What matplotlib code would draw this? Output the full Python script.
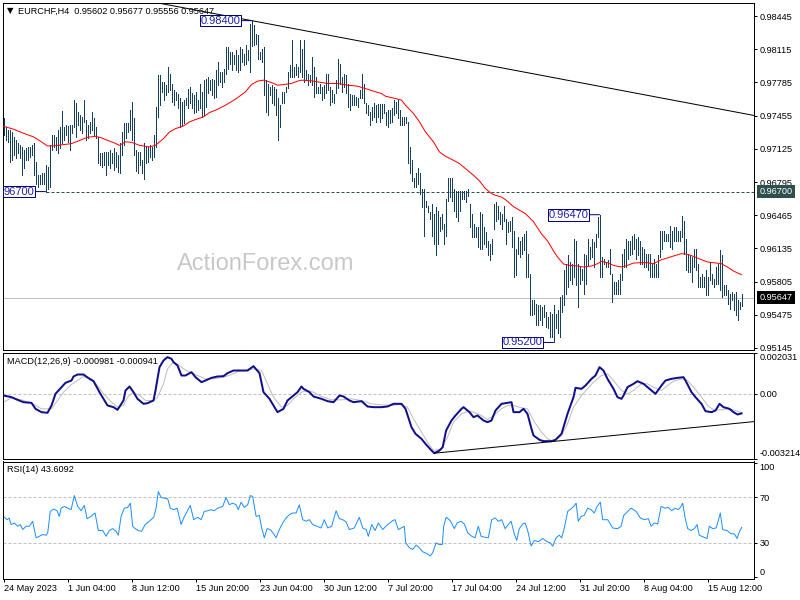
import matplotlib
matplotlib.use("Agg")
import matplotlib.pyplot as plt
import numpy as np

W, H = 800, 600

# EURCHF H4 bars from 24 May 2023 20:00, high / low in pips (1e-4)
HIGH = [
    9743, 9734, 9731, 9731, 9729, 9724, 9721, 9718, 9716, 9714,
    9711, 9713, 9714, 9714, 9716, 9718, 9699, 9686, 9686, 9688,
    9688, 9696, 9694, 9716, 9726, 9726, 9724, 9731, 9734, 9750,
    9734, 9736, 9735, 9736, 9736, 9761, 9758, 9749, 9746, 9744,
    9761, 9741, 9736, 9739, 9749, 9743, 9734, 9724, 9708, 9708,
    9709, 9709, 9709, 9711, 9708, 9713, 9709, 9706, 9718, 9729,
    9738, 9738, 9738, 9751, 9759, 9743, 9711, 9709, 9709, 9701,
    9718, 9714, 9714, 9716, 9714, 9726, 9754, 9786, 9786, 9779,
    9779, 9776, 9794, 9787, 9777, 9771, 9769, 9767, 9763, 9759,
    9761, 9763, 9772, 9774, 9768, 9766, 9769, 9761, 9777, 9769,
    9781, 9782, 9784, 9781, 9782, 9781, 9791, 9799, 9789, 9789,
    9792, 9814, 9814, 9809, 9809, 9806, 9811, 9806, 9814, 9812,
    9807, 9816, 9811, 9837, 9840, 9836, 9827, 9826, 9809, 9812,
    9814, 9781, 9777, 9774, 9776, 9774, 9772, 9763, 9756, 9769,
    9769, 9774, 9789, 9796, 9821, 9794, 9797, 9794, 9821, 9812,
    9821, 9791, 9787, 9786, 9804, 9794, 9784, 9774, 9777, 9774,
    9776, 9787, 9787, 9774, 9771, 9767, 9781, 9802, 9797, 9784,
    9787, 9786, 9777, 9767, 9766, 9766, 9764, 9763, 9771, 9787,
    9777, 9758, 9756, 9749, 9754, 9758, 9756, 9757, 9757, 9757,
    9757, 9749, 9751, 9751, 9753, 9761, 9759, 9761, 9751, 9744,
    9744, 9744, 9739, 9714, 9701, 9684, 9688, 9693, 9688, 9673,
    9673, 9661, 9656, 9650, 9658, 9648, 9655, 9651, 9645, 9648,
    9638, 9663, 9684, 9684, 9684, 9673, 9671, 9671, 9671, 9671,
    9671, 9671, 9673, 9658, 9648, 9638, 9635, 9635, 9650, 9648,
    9635, 9630, 9621, 9618, 9623, 9658, 9660, 9656, 9650, 9648,
    9656, 9643, 9640, 9641, 9645, 9631, 9613, 9625, 9621, 9625,
    9628, 9631, 9608, 9588, 9562, 9562, 9558, 9557, 9557, 9555,
    9557, 9550, 9545, 9550, 9548, 9557, 9548, 9552, 9565, 9567,
    9592, 9598, 9607, 9600, 9598, 9623, 9621, 9598, 9595, 9593,
    9608, 9607, 9623, 9615, 9623, 9620, 9628, 9645, 9647, 9605,
    9603, 9600, 9602, 9613, 9588, 9580, 9580, 9582, 9588, 9608,
    9613, 9623, 9621, 9621, 9626, 9628, 9623, 9625, 9621, 9615,
    9613, 9608, 9608, 9608, 9598, 9603, 9598, 9607, 9631, 9631,
    9631, 9628, 9628, 9636, 9631, 9635, 9635, 9631, 9631, 9646,
    9641, 9623, 9608, 9607, 9605, 9613, 9613, 9598, 9585, 9588,
    9585, 9592, 9585, 9600, 9588, 9583, 9595, 9598, 9612, 9607,
    9577, 9577, 9572, 9568, 9570, 9568, 9570, 9562, 9560, 9568,
]
LOW = [
    9726, 9721, 9719, 9699, 9701, 9706, 9703, 9708, 9703, 9686,
    9693, 9701, 9701, 9704, 9706, 9686, 9678, 9675, 9678, 9678,
    9678, 9670, 9673, 9675, 9711, 9714, 9711, 9708, 9713, 9718,
    9721, 9726, 9719, 9711, 9728, 9734, 9724, 9736, 9731, 9728,
    9739, 9721, 9723, 9728, 9731, 9726, 9723, 9698, 9696, 9694,
    9696, 9686, 9696, 9693, 9698, 9691, 9694, 9689, 9688, 9706,
    9716, 9723, 9729, 9731, 9721, 9706, 9690, 9688, 9696, 9688,
    9683, 9698, 9699, 9704, 9701, 9704, 9714, 9744, 9756, 9769,
    9761, 9766, 9769, 9771, 9759, 9756, 9761, 9753, 9734, 9736,
    9738, 9756, 9753, 9758, 9753, 9748, 9749, 9751, 9753, 9744,
    9746, 9754, 9768, 9771, 9766, 9763, 9764, 9776, 9779, 9774,
    9779, 9787, 9792, 9797, 9791, 9797, 9791, 9789, 9791, 9799,
    9796, 9797, 9801, 9789, 9815, 9816, 9817, 9802, 9802, 9799,
    9766, 9749, 9746, 9766, 9758, 9756, 9746, 9721, 9734, 9758,
    9758, 9769, 9773, 9784, 9784, 9784, 9786, 9784, 9789, 9784,
    9779, 9781, 9776, 9779, 9776, 9764, 9768, 9768, 9768, 9761,
    9763, 9768, 9771, 9756, 9759, 9758, 9768, 9773, 9777, 9769,
    9774, 9768, 9754, 9751, 9756, 9756, 9756, 9754, 9763, 9763,
    9758, 9748, 9746, 9736, 9741, 9744, 9739, 9744, 9739, 9743,
    9748, 9736, 9734, 9738, 9739, 9746, 9748, 9743, 9736, 9736,
    9736, 9738, 9698, 9688, 9681, 9675, 9675, 9678, 9668, 9655,
    9626, 9655, 9650, 9643, 9626, 9618, 9607, 9618, 9631, 9633,
    9618, 9626, 9661, 9665, 9661, 9651, 9645, 9641, 9651, 9663,
    9663, 9660, 9666, 9635, 9625, 9625, 9625, 9615, 9613, 9613,
    9618, 9615, 9607, 9602, 9608, 9633, 9641, 9643, 9638, 9633,
    9641, 9618, 9630, 9631, 9615, 9585, 9587, 9608, 9605, 9608,
    9612, 9585, 9585, 9547, 9547, 9548, 9537, 9537, 9542, 9537,
    9545, 9535, 9534, 9525, 9525, 9520, 9534, 9529, 9525, 9550,
    9557, 9568, 9575, 9582, 9578, 9585, 9577, 9555, 9578, 9582,
    9568, 9578, 9597, 9603, 9605, 9595, 9615, 9625, 9585, 9585,
    9598, 9595, 9595, 9588, 9560, 9568, 9568, 9568, 9568, 9582,
    9595, 9595, 9603, 9607, 9608, 9613, 9603, 9607, 9598, 9598,
    9595, 9595, 9592, 9585, 9585, 9585, 9585, 9585, 9605, 9613,
    9621, 9621, 9621, 9615, 9613, 9621, 9621, 9621, 9621, 9625,
    9608, 9592, 9590, 9590, 9580, 9595, 9592, 9575, 9575, 9575,
    9575, 9567, 9567, 9582, 9578, 9575, 9578, 9578, 9572, 9565,
    9567, 9567, 9558, 9553, 9562, 9552, 9547, 9542, 9553, 9556,
]

# moving average, read every few bars (pips)
MA_BAR = [0, 5, 10, 15, 19, 22, 25, 30, 34, 37, 42, 46, 49, 52, 55, 58, 61,
          64, 68, 73, 76, 80, 83, 86, 90, 93, 96, 100, 103, 106, 111, 116, 121,
          124, 127, 130, 134, 137, 140, 144, 147, 149, 154, 157, 162, 167, 172,
          177, 182, 185, 189, 191, 196, 199, 201, 205, 208, 211, 215, 218, 221,
          225, 228, 231, 235, 238, 241, 244, 246, 249, 251, 255, 261, 265, 269,
          272, 275, 277, 280, 283, 287, 290, 294, 297, 299, 302, 305, 309, 312,
          315, 319, 322, 325, 329, 332, 335, 339, 342, 345, 349, 352, 355, 359,
          362, 365, 369]
MA_PIPS = [9735, 9732, 9728, 9724.4, 9719.4, 9715.4, 9715.4, 9716.7, 9717.7,
           9720, 9724, 9725, 9723.4, 9721, 9718.7, 9716, 9719.5, 9719, 9716,
           9714.4, 9716, 9722.7, 9729.3, 9732.6, 9735.3, 9739.3, 9741.6, 9744.3,
           9748.6, 9750.9, 9755.9, 9761.9, 9769.2, 9776.5, 9779.8, 9780.8,
           9778.4, 9775.8, 9776.4, 9777.5, 9779.8, 9780.8, 9780.1, 9779.1,
           9777.5, 9777.5, 9775.8, 9774.8, 9771.8, 9769.8, 9767.5, 9764.8,
           9762.5, 9760.9, 9755.9, 9747.6, 9739.3, 9729.3, 9719.4, 9709.4,
           9705.1, 9701.1, 9697.8, 9692.8, 9686.2, 9680.6, 9672.9, 9668, 9666.3,
           9664.6, 9662, 9655, 9648, 9640, 9628, 9621, 9611, 9605, 9598, 9596.6,
           9596, 9595, 9596, 9598.3, 9600.6, 9599.3, 9596.6, 9595, 9596.6, 9599,
           9599.3, 9599.3, 9598.3, 9602.3, 9604, 9606, 9608.3, 9607.6, 9605.6,
           9602.3, 9600, 9599.3, 9598.3, 9595, 9591, 9587.3]

# MACD(12,26,9) in units of 1e-4
MACD_BAR = [0, 4, 7, 10, 14, 16, 19, 22, 24, 26, 29, 31, 34, 35, 37, 40, 43, 45,
            48, 50, 52, 55, 57, 60, 61, 63, 65, 67, 70, 72, 75, 76, 78, 80, 82,
            84, 85, 87, 89, 91, 94, 96, 99, 101, 104, 107, 110, 112, 115, 119,
            122, 125, 128, 130, 133, 135, 137, 140, 142, 145, 147, 149, 150, 153,
            155, 159, 162, 165, 168, 170, 173, 175, 179, 182, 185, 189, 192, 195,
            199, 201, 204, 206, 209, 211, 214, 215.4, 218, 219.6, 221.3, 224,
            226, 229, 230, 233, 235, 237, 240, 242, 244, 246, 249, 251, 254, 255,
            258, 260, 262, 264, 265, 268, 270, 274, 276, 279, 280, 282, 285, 286,
            289, 291, 294, 296, 298, 300, 302, 305, 307, 309, 310, 312, 315, 317,
            320, 322, 325, 326, 329, 331, 334, 337, 340, 341, 344, 346, 349, 351,
            354, 356, 358, 360, 363, 365, 367, 369]
MACD_MAIN = [-0.97, -1.79, -3.11, -4.27, -4.6, -7.56, -9.21, -9.54, -5.9, -0.14,
             3.16, 5.3, 6.46, 8.43, 9.42, 9.42, 7.28, 6.13, 0.68, -2.62, -5.9,
             -6.74, -8.06, -3.44, 1.51, 3.49, 0.68, -2.62, -5.09, -4.76, -3.44,
             1.51, 13.05, 16.35, 18.0, 17.18, 15.53, 13.88, 8.93, 8.93, 10.58,
             8.1, 5.63, 6.46, 7.77, 8.43, 8.6, 10.08, 11.4, 11.4, 11.4, 13.55,
             10.08, 0.68, -2.62, -5.9, -9.21, -7.56, -3.44, -0.97, 0.68, 3.49,
             2.33, 0.68, -1.46, -2.62, -3.77, -4.27, -0.97, -1.46, -3.44, -4.27,
             -3.77, -6.41, -6.74, -6.74, -6.41, -5.09, -5.09, -7.56, -16.64,
             -19.94, -22.41, -24.88, -28.18, -29.5, -28.18, -26.53, -18.29,
             -13.34, -10.86, -7.56, -6.74, -9.21, -11.69, -10.86, -13.34, -14.16,
             -13.34, -8.39, -5.09, -4.76, -4.27, -9.21, -9.21, -7.56, -10.04,
             -17.46, -20.76, -22.9, -23.56, -23.56, -22.9, -19.94, -16.64, -10.04,
             -1.79, 2.83, 2.33, 3.98, 7.28, 8.93, 13.05, 11.4, 7.28, 2.33, -1.79,
             -2.62, -0.97, 3.16, 4.81, 6.13, 4.81, 3.16, 0.68, -0.14, 3.98, 6.46,
             7.28, 7.77, 8.1, 6.46, 0.68, -1.79, -5.09, -8.72, -9.21, -8.39,
             -5.09, -6.74, -7.56, -9.21, -10.37, -9.81]
SIGNAL_BAR = [0, 4, 9, 14, 19, 24, 27, 30, 34, 37, 40, 44, 47, 50, 54, 57, 60,
              62, 65, 68, 71, 75, 77, 80, 82, 85, 87, 90, 94, 97, 101, 105, 110,
              114, 118, 122, 125, 129, 132, 135, 139, 142, 145, 149, 152, 155,
              159, 164, 169, 174, 179, 184, 189, 194, 198, 202, 205, 209, 212,
              215, 219, 222, 225, 229, 232, 235, 239, 242, 245, 249, 252, 255,
              259, 262, 265, 269, 272, 275, 279, 282, 285, 289, 292, 295, 299,
              302, 305, 309, 312, 315, 319, 322, 325, 329, 332, 335, 339, 342,
              345, 349, 352, 355, 359, 362, 365, 369]
MACD_SIGNAL = [-4.27, -2.12, -3.11, -4.76, -7.56, -7.56, -3.44, 0.68, 4.48, 6.46,
               8.43, 7.28, 3.98, -0.14, -4.27, -6.74, -5.9, -1.79, 0.68, -0.97,
               -3.44, -3.44, -1.79, 4.81, 12.23, 15.53, 14.7, 12.23, 10.08, 8.93,
               7.28, 7.28, 8.1, 9.42, 11.07, 11.4, 12.23, 11.4, 4.81, -1.79, -6.74,
               -5.9, -2.62, 0.68, 1.51, 0.68, -1.46, -3.11, -3.11, -2.62, -3.44,
               -5.09, -5.59, -5.9, -5.42, -6.74, -12.51, -19.11, -24.06, -28.18,
               -27.36, -21.58, -14.16, -10.04, -8.88, -9.21, -10.86, -13.01,
               -10.86, -7.56, -5.9, -5.9, -7.07, -7.56, -13.34, -19.11, -22.41,
               -23.56, -20.76, -14.99, -6.74, -0.97, 2.33, 5.63, 8.93, 9.75, 6.46,
               1.51, -0.14, 1.51, 4.81, 4.81, 3.16, 1.51, 3.98, 6.13, 7.28, 6.46,
               3.16, -1.79, -5.9, -8.06, -8.06, -7.56, -8.06, -9.41]

# RSI(14)
RSI_BAR = [0.4, 1.8, 2.8, 3.8, 5.4, 7.1, 8.4, 9.6, 11.3, 12.9, 14.6, 15.4, 16.3,
           17.9, 19.6, 21.3, 22.1, 23.4, 25.1, 26.8, 27.9, 28.8, 30.4, 32.1, 33.8,
           35.4, 37.1, 38.8, 40.4, 41.8, 43.8, 45.8, 47.4, 49.6, 51.3, 52.9, 54.6,
           56.3, 57.4, 58.8, 60.4, 62.1, 63.4, 64.6, 65.8, 67.4, 69.1, 70.8, 72.9,
           75.1, 76.3, 77.4, 78.8, 80.4, 82.1, 83.4, 85.1, 86.8, 88.8, 90.1, 91.8,
           93.4, 95.1, 97.1, 98.8, 100.4, 102.1, 103.8, 105.4, 107.1, 109.6,
           111.3, 112.9, 114.6, 116.3, 117.4, 118.8, 120.4, 122.1, 123.4, 124.6,
           126.3, 127.9, 129.1, 130.4, 131.8, 133.4, 135.1, 136.3, 137.9, 139.6,
           141.3, 142.9, 144.6, 146.3, 147.9, 149.6, 151.3, 152.9, 154.6, 156.8,
           158.8, 160.4, 162.1, 164.1, 166.3, 167.9, 169.6, 171.3, 172.9, 175.4,
           177.9, 179.6, 181.3, 182.4, 184.1, 185.8, 187.4, 189.6, 192.1, 194.6,
           195.8, 197.4, 200.4, 201.1, 202.9, 204.6, 206.3, 207.9, 209.6, 211.8,
           213.4, 214.6, 216.3, 217.8, 219.4, 220.1, 221.3, 223.4, 225.4, 226.8,
           228.8, 230.4, 232.1, 234.1, 235.8, 237.4, 238.8, 240.4, 242.4, 244.1,
           245.8, 247.4, 249.1, 250.8, 252.4, 253.8, 255.4, 256.6, 257.9, 259.6,
           260.8, 262.1, 263.8, 265.4, 267.4, 269.6, 271.8, 273.4, 274.6, 276.3,
           277.9, 279.1, 280.4, 282.1, 283.8, 285.1, 286.3, 287.4, 288.8, 290.4,
           292.1, 293.8, 295.4, 296.8, 298.4, 299.6, 302.1, 304.6, 307.1, 308.8,
           310.1, 312.1, 313.8, 316.3, 318.4, 320.4, 322.4, 323.8, 325.4, 327.1,
           328.8, 330.8, 332.4, 334.1, 335.8, 337.4, 338.8, 339.6, 340.8, 342.1,
           343.8, 345.4, 346.8, 347.9, 350.1, 351.8, 352.9, 354.6, 356.3, 357.4,
           358.4, 359.6, 361.8, 363.8, 365.4, 366.8, 367.9, 369.1]
RSI = [52.5, 50.4, 51.9, 46.1, 47.5, 44.6, 46.1, 41.7, 44.6, 44.6, 49, 41.7, 34.4,
       35.8, 37.3, 36.7, 38.8, 57.7, 59.8, 58.3, 53.3, 60.6, 62.1, 60.6, 59.2,
       71.7, 62.1, 58.3, 63, 51.3, 53.3, 56.3, 40.8, 40.8, 35.8, 40.8, 42.5, 40.2,
       36.7, 53.3, 60.6, 61.2, 65, 44.6, 42.5, 40.8, 40.2, 46.1, 49, 52.5, 60.6,
       75.2, 70, 69.4, 68.8, 60.6, 59.2, 60.6, 46.1, 51.9, 57.7, 63, 50.4, 52.5,
       50.4, 57.7, 58.3, 59.2, 58.3, 60.6, 62.1, 70, 63.6, 65, 63.6, 59.2, 65.9,
       61.2, 63.6, 71.7, 70.8, 53.3, 54.2, 43.1, 34.4, 42.5, 41.7, 37.9, 34.4,
       41.7, 47.5, 51.9, 54.8, 56.3, 56.3, 63.6, 50.4, 49, 50.4, 46.1, 44.6, 43.1,
       50.4, 43.1, 44.6, 58.3, 51.3, 50.4, 48.4, 41.7, 43.1, 52.5, 43.1, 41.7,
       35.8, 46.1, 40.8, 47.5, 41.7, 46.1, 49.6, 50.4, 41.7, 44.6, 30, 25.6, 24.2,
       28, 25.6, 22.1, 20.4, 18.3, 21.3, 30, 28.5, 28.5, 44.6, 52.5, 49.6, 42.5,
       47.5, 49, 46.6, 38.8, 35.8, 34.4, 44.6, 35.8, 35, 34.4, 50.4, 51.9, 49,
       50.4, 42.5, 46.1, 49, 37.9, 32.1, 42.5, 46.6, 47.5, 40.8, 27.1, 32.1, 30.9,
       33.8, 30.9, 30, 27.1, 34.4, 36.7, 34.4, 43.1, 57.7, 60.1, 62.1, 65, 49,
       53.3, 54.2, 60.6, 59.2, 56.3, 62.1, 65.9, 50.4, 50.4, 43.1, 42.5, 44.6,
       54.2, 57.7, 60.6, 57.7, 51.9, 50.4, 51.3, 44.6, 47.5, 46.6, 62.1, 60.6,
       61.2, 58.3, 60.6, 59.2, 62.1, 65, 51.9, 42.5, 40.8, 42.5, 46.1, 36.7, 35,
       33.8, 44.6, 42.5, 43.1, 49.6, 56.3, 41.7, 40.8, 37.9, 37.9, 33.8, 39.6,
       43.6]

PRICE_TICKS = [0.98445, 0.98115, 0.97785, 0.97455, 0.97125, 0.96795,
               0.96465, 0.96135, 0.95805, 0.95475, 0.95145]
TIME_BARS = [0, 32, 64, 96, 128, 160, 192, 224, 256, 288, 320, 352]
TIME_LABELS = ["24 May 2023", "1 Jun 04:00", "8 Jun 12:00", "15 Jun 20:00",
               "23 Jun 04:00", "30 Jun 12:00", "7 Jul 20:00", "17 Jul 04:00",
               "24 Jul 12:00", "31 Jul 20:00", "8 Aug 04:00", "15 Aug 12:00"]

# swing tags (the 0.96700 one runs off the left edge, only "96700" shows)
TAG_BARS = [124, 21, 298, 275]
TAG_PRICES = [0.98400, 0.96700, 0.96470, 0.95200]
TAG_TEXTS = ["0.98400", "96700", "0.96470", "0.95200"]
SUPPORT = 0.96700
SUPPORT_BAR = 21
LAST_PRICE = 0.95647
TREND_BARS = [124, 375.75]
TREND_PRICES = [0.98400, 0.97455]
MACD_TREND_BARS = [215.4, 375.75]
MACD_TREND_VALUES = [-0.002952, -0.001383]

HEADER = "EURCHF,H4  0.95602 0.95677 0.95556 0.95647"
MACD_TITLE = "MACD(12,26,9) -0.000981 -0.000941"
RSI_TITLE = "RSI(14) 43.6092"

BAR_COLOR = "#15405e"
TAG_EDGE = "#000080"
TAG_TEXT = "#2020a8"
FS = 6.6
PX = 0.72  # one pixel in points at dpi 100

plt.rcParams["font.family"] = ["Liberation Sans", "DejaVu Sans"]
plt.rcParams["lines.scale_dashes"] = False


def px_rect(left, top, right, bottom):
    return [left / W, 1 - bottom / H, (right - left) / W, (bottom - top) / H]


def frame(ax):
    for s in ax.spines.values():
        s.set_linewidth(PX)
        s.set_color("black")
    ax.set_xlim(-0.5, 375)
    ax.yaxis.tick_right()
    ax.tick_params(axis="y", direction="out", length=3 * PX, width=PX,
                   pad=3 * PX, labelsize=FS, colors="black")
    ax.set_xticks([])


fig = plt.figure(figsize=(W / 100, H / 100), dpi=100, facecolor="white")
ax_p = fig.add_axes(px_rect(2.5, 2.5, 753.5, 349.5))
ax_m = fig.add_axes(px_rect(2.5, 352.5, 753.5, 458.5))
ax_r = fig.add_axes(px_rect(2.5, 461.5, 753.5, 578.5))
for a in (ax_p, ax_m, ax_r):
    frame(a)

# ---- price panel
bars = np.arange(len(HIGH))
high = np.array(HIGH) / 1e4
low = np.array(LOW) / 1e4
ax_p.set_ylim(0.95130, 0.98580)
ax_p.set_yticks(PRICE_TICKS)
ax_p.set_yticklabels([f"{t:.5f}" for t in PRICE_TICKS])

ax_p.text(0.2327, 0.2478, "ActionForex.com", transform=ax_p.transAxes,
          fontsize=17, color="#c8c8c8", ha="left", va="center", zorder=0.5)
ax_p.axhline(LAST_PRICE, color="#c0c0c0", lw=PX, zorder=1)
ax_p.plot([SUPPORT_BAR, 380], [SUPPORT, SUPPORT], color="#2f4f4f", lw=PX,
          dashes=(3 * PX, 2 * PX), zorder=1.5)
ax_p.vlines(bars, low, high, colors=BAR_COLOR, linewidth=PX,
            antialiased=False, zorder=2)
ax_p.plot(MA_BAR, np.array(MA_PIPS) / 1e4, color="red", lw=PX, zorder=3)

slope = (TREND_PRICES[1] - TREND_PRICES[0]) / (TREND_BARS[1] - TREND_BARS[0])
tx = np.array([-1.0, 377.0])
ax_p.plot(tx, TREND_PRICES[0] + slope * (tx - TREND_BARS[0]), color="black",
          lw=PX, zorder=3)

for b, p, label in zip(TAG_BARS, TAG_PRICES, TAG_TEXTS):
    ax_p.annotate(label, xy=(b, p), xytext=(-11 * PX, 0),
                  textcoords="offset points", ha="right", va="center",
                  fontsize=8, color=TAG_TEXT, zorder=6,
                  bbox=dict(boxstyle="square,pad=0.08", fc="white",
                            ec=TAG_EDGE, lw=PX),
                  arrowprops=dict(arrowstyle="-", color=TAG_EDGE, lw=PX,
                                  shrinkA=0, shrinkB=0))

for p, fc in ((SUPPORT, "#2f4f4f"), (LAST_PRICE, "black")):
    ax_p.annotate(f"{p:.5f}", xy=(1, p), xycoords=("axes fraction", "data"),
                  xytext=(6 * PX, 0), textcoords="offset points", ha="left",
                  va="center", fontsize=FS, color="white",
                  annotation_clip=False, zorder=10,
                  bbox=dict(boxstyle="square,pad=0.25", fc=fc, ec="none"))

ax_p.annotate("\u25bc", xy=(0, 1), xycoords="axes fraction",
              xytext=(7.5 * PX, -8.5 * PX), textcoords="offset points",
              ha="center", va="center", fontsize=6, color="black",
              family="DejaVu Sans")
ax_p.annotate(HEADER, xy=(0, 1), xycoords="axes fraction",
              xytext=(15.5 * PX, -8.5 * PX), textcoords="offset points",
              ha="left", va="center", fontsize=FS, color="black")

# ---- MACD panel
ax_m.set_ylim(-0.003214, 0.002031)
ax_m.axhline(0, color="#c0c0c0", lw=PX, dashes=(3 * PX, 2 * PX), zorder=1)
ax_m.plot(SIGNAL_BAR, np.array(MACD_SIGNAL) * 1e-4, color="#bdbdbd", lw=PX,
          zorder=2)
ax_m.plot(MACD_BAR, np.array(MACD_MAIN) * 1e-4, color="#10108c", lw=2 * PX,
          zorder=3)
ax_m.plot(MACD_TREND_BARS, MACD_TREND_VALUES, color="black", lw=PX, zorder=4)
ax_m.set_yticks([0.002031, 0.0, -0.003214])
ax_m.set_yticklabels(["0.002031", "0.00", "-0.003214"])
mt = ax_m.yaxis.get_major_ticks()
mt[0].label2.set_va("top")
mt[2].label2.set_va("bottom")
ax_m.annotate(MACD_TITLE, xy=(0, 1), xycoords="axes fraction",
              xytext=(4.8 * PX, -8.8 * PX), textcoords="offset points",
              ha="left", va="center", fontsize=FS, color="black")

# ---- RSI panel
ax_r.set_ylim(-1.5, 101.75)
for lvl in (70, 30):
    ax_r.axhline(lvl, color="#c0c0c0", lw=PX, dashes=(3 * PX, 2 * PX), zorder=1)
ax_r.plot(RSI_BAR, RSI, color="#1e90ff", lw=PX, zorder=2)
ax_r.set_yticks([100, 70, 30, 0])
ax_r.set_yticklabels(["100", "70", "30", "0"])
rt = ax_r.yaxis.get_major_ticks()
rt[0].label2.set_va("top")
rt[3].label2.set_va("bottom")
ax_r.annotate(RSI_TITLE, xy=(0, 1), xycoords="axes fraction",
              xytext=(4.5 * PX, -8.4 * PX), textcoords="offset points",
              ha="left", va="center", fontsize=FS, color="black")

ax_r.set_xticks(TIME_BARS)
ax_r.set_xticklabels(TIME_LABELS, ha="left")
ax_r.tick_params(axis="x", direction="out", length=3 * PX, width=PX,
                 pad=2.5 * PX, labelsize=FS, colors="black")

fig.savefig("out.png", dpi=100, facecolor="white")
